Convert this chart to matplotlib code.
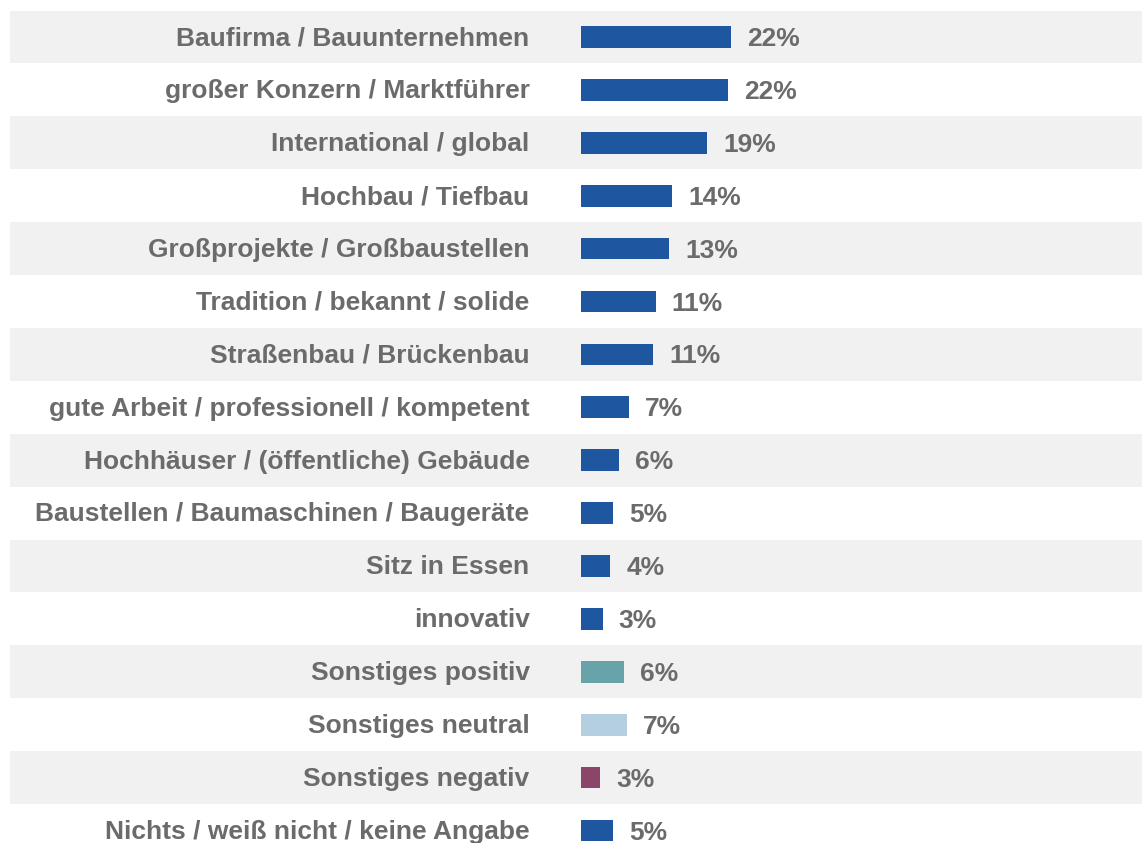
import matplotlib.pyplot as plt

# Daten
categories = [
    "Baufirma / Bauunternehmen",
    "großer Konzern / Marktführer",
    "International / global",
    "Hochbau / Tiefbau",
    "Großprojekte / Großbaustellen",
    "Tradition / bekannt / solide",
    "Straßenbau / Brückenbau",
    "gute Arbeit / professionell / kompetent",
    "Hochhäuser / (öffentliche) Gebäude",
    "Baustellen / Baumaschinen / Baugeräte",
    "Sitz in Essen",
    "innovativ",
    "Sonstiges positiv",
    "Sonstiges neutral",
    "Sonstiges negativ",
    "Nichts / weiß nicht / keine Angabe",
]
values = [22.1, 21.7, 18.6, 13.4, 13.0, 11.0, 10.6, 7.1, 5.6, 4.7, 4.3, 3.2, 6.3, 6.8, 2.8, 4.7]
value_labels = [22, 22, 19, 14, 13, 11, 11, 7, 6, 5, 4, 3, 6, 7, 3, 5]
bar_colors = ["#1f56a0"] * 12 + ["#67a3a9", "#b3cfe0", "#8b4568", "#1f56a0"]

plt.rcParams['font.family'] = ['Liberation Sans', 'DejaVu Sans']

W, H = 1142, 843
fig = plt.figure(figsize=(W / 100, H / 100), dpi=100)
ax = fig.add_axes([0, 0, 1, 1])

# Pixel-Geometrie
x0_px = 581          # Beginn der Balken
px_per_pct = 6.79
row0_px = 37
row_h = 52.9

ax.set_xlim(-x0_px / px_per_pct, (W - x0_px) / px_per_pct)
ax.set_ylim((H - row0_px) / row_h, -row0_px / row_h)
ax.axis('off')

grey = "#6b6b6b"
for i, (cat, v, lab, c) in enumerate(zip(categories, values, value_labels, bar_colors)):
    if i % 2 == 0:
        ax.axhspan(i - 0.5, i + 0.5, xmin=10 / W, xmax=1, color="#f1f1f1", zorder=0, lw=0)
    ax.barh(i, v, height=0.41, color=c, zorder=2)
    ax.annotate(cat, xy=(0, i), xytext=(-37, -1), textcoords='offset points',
                ha='right', va='center', fontsize=19, fontweight='bold', color=grey)
    ax.annotate(f"{lab}%", xy=(v, i), xytext=(11.5, -1.5), textcoords='offset points',
                ha='left', va='center', fontsize=19, fontweight='bold', color=grey)

fig.savefig("out.png", dpi=100)
